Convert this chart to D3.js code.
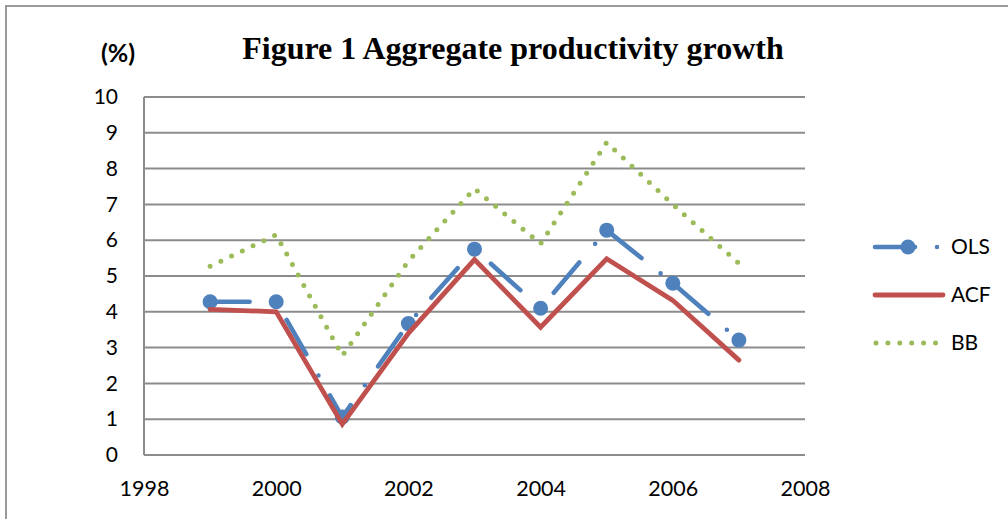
<!DOCTYPE html>
<html>
<head>
<meta charset="utf-8">
<script src="https://cdn.jsdelivr.net/npm/d3@7"></script>
<style>
  html, body { margin: 0; padding: 0; background: #fff; }
  svg { display: block; }
</style>
</head>
<body>
<svg id="chart" width="1008" height="519"></svg>
<script>
// ---- data ----
const years = [1999, 2000, 2001, 2002, 2003, 2004, 2005, 2006, 2007];
const olsValues = [4.28, 4.28, 1.06, 3.67, 5.75, 4.1, 6.28, 4.8, 3.21];
const acfValues = [4.07, 4.0, 0.86, 3.4, 5.46, 3.57, 5.48, 4.32, 2.65];
const bbValues  = [5.27, 6.15, 2.77, 5.42, 7.44, 5.9, 8.73, 7.0, 5.35];
const yTicks = [0, 1, 2, 3, 4, 5, 6, 7, 8, 9, 10];
const xTicks = [1998, 2000, 2002, 2004, 2006, 2008];
const seriesNames = ["OLS", "ACF", "BB"];
const titleText = "Figure 1 Aggregate productivity growth";
const unitText = "(%)";

// ---- layout ----
const svg = d3.select("#chart");
const colors = { OLS: "#4F81BD", ACF: "#C0504D", BB: "#9BBB59" };
const gridColor = "#8c8c8c";
const sansFont = "Lato, 'Open Sans', sans-serif";
const x = d3.scaleLinear().domain([1998, 2008]).range([144, 805]);
const y = d3.scaleLinear().domain([0, 10]).range([455, 97]);

// outer frame (only top/left visible in reference)
svg.append("rect")
  .attr("x", 6).attr("y", 6).attr("width", 1020).attr("height", 540)
  .attr("fill", "none").attr("stroke", "#9a9a9a").attr("stroke-width", 2);

// title
svg.append("text")
  .attr("x", 513).attr("y", 59)
  .attr("text-anchor", "middle")
  .style("font-family", "'Liberation Serif', 'Times New Roman', serif")
  .style("font-weight", "bold")
  .style("font-size", "32px")
  .text(titleText);

svg.append("text")
  .attr("x", 118).attr("y", 62)
  .attr("text-anchor", "middle")
  .style("font-family", sansFont)
  .style("font-weight", "bold")
  .style("font-size", "25px")
  .text(unitText);

// gridlines
svg.append("g")
  .selectAll("line")
  .data(yTicks)
  .join("line")
  .attr("x1", x(1998)).attr("x2", x(2008))
  .attr("y1", d => y(d)).attr("y2", d => y(d))
  .attr("stroke", gridColor).attr("stroke-width", 2);

// left axis line
svg.append("line")
  .attr("x1", x(1998)).attr("x2", x(1998))
  .attr("y1", y(10)).attr("y2", y(0))
  .attr("stroke", gridColor).attr("stroke-width", 2);

// y axis labels
const yAxis = d3.axisLeft(y).tickValues(yTicks).tickFormat(d3.format("d")).tickSize(0).tickPadding(26);
const gy = svg.append("g").attr("transform", `translate(${x(1998)},0)`).call(yAxis);
gy.select(".domain").remove();
gy.selectAll("text").style("font-family", sansFont).style("font-size", "21px").attr("fill", "#000");

// x axis labels
const xAxis = d3.axisBottom(x).tickValues(xTicks).tickFormat(d3.format("d")).tickSize(0).tickPadding(26);
const gx = svg.append("g").attr("transform", `translate(0,${y(0)})`).call(xAxis);
gx.select(".domain").remove();
gx.selectAll("text").style("font-family", sansFont).style("font-size", "21.5px").attr("fill", "#000");

const line = d3.line().x(d => x(d[0])).y(d => y(d[1]));
const olsData = years.map((yr, i) => [yr, olsValues[i]]);
const acfData = years.map((yr, i) => [yr, acfValues[i]]);
const bbData = years.map((yr, i) => [yr, bbValues[i]]);

const olsDash = "39.5 24.5 0 23";

// OLS
svg.append("path").datum(olsData)
  .attr("d", line).attr("fill", "none")
  .attr("stroke", colors.OLS).attr("stroke-width", 4.6)
  .attr("stroke-linecap", "round").attr("stroke-linejoin", "round")
  .attr("stroke-dasharray", olsDash);
svg.append("g").selectAll("circle").data(olsData).join("circle")
  .attr("cx", d => x(d[0])).attr("cy", d => y(d[1])).attr("r", 7.5)
  .attr("fill", colors.OLS);

// ACF
svg.append("path").datum(acfData)
  .attr("d", line).attr("fill", "none")
  .attr("stroke", colors.ACF).attr("stroke-width", 4.8)
  .attr("stroke-linecap", "round").attr("stroke-linejoin", "miter");

// BB
svg.append("path").datum(bbData)
  .attr("d", line).attr("fill", "none")
  .attr("stroke", colors.BB).attr("stroke-width", 5)
  .attr("stroke-linecap", "round")
  .attr("stroke-dasharray", "0 11.9");

// legend
const legY = { OLS: 247, ACF: 295, BB: 343 };
const lg = svg.append("g");
// OLS legend
lg.append("path").attr("d", d3.line()([[875, legY.OLS], [945, legY.OLS]]))
  .attr("fill", "none").attr("stroke", colors.OLS).attr("stroke-width", 4.6)
  .attr("stroke-linecap", "round").attr("stroke-dasharray", "40 22 0 40");
lg.append("circle").attr("cx", 908).attr("cy", legY.OLS).attr("r", 7.5).attr("fill", colors.OLS);
// ACF legend
lg.append("line").attr("x1", 875).attr("x2", 943).attr("y1", legY.ACF).attr("y2", legY.ACF)
  .attr("stroke", colors.ACF).attr("stroke-width", 4.8).attr("stroke-linecap", "round");
// BB legend
lg.append("path").attr("d", d3.line()([[876, legY.BB], [936, legY.BB]]))
  .attr("fill", "none").attr("stroke", colors.BB).attr("stroke-width", 5)
  .attr("stroke-linecap", "round").attr("stroke-dasharray", "0 11.9");

lg.selectAll("text.leg").data(seriesNames).join("text")
  .attr("class", "leg")
  .attr("x", 951).attr("y", d => legY[d])
  .attr("dy", "0.35em")
  .style("font-family", sansFont).style("font-size", "21px")
  .text(d => d);
</script>
</body>
</html>
